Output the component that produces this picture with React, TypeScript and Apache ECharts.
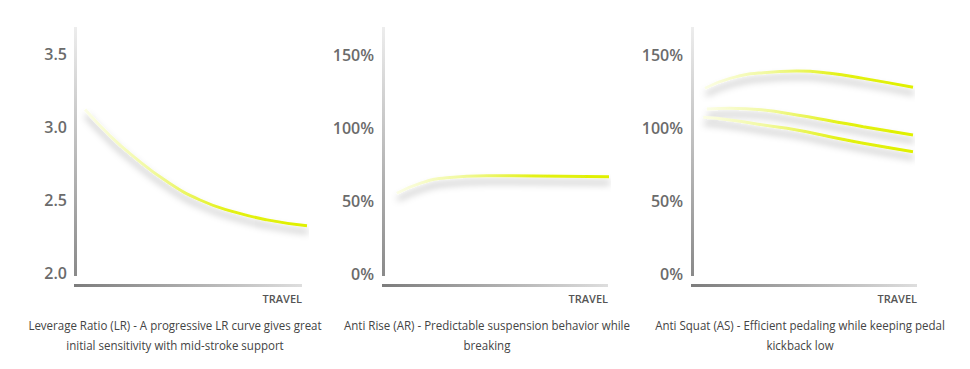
import React, { useEffect, useRef } from "react";
import * as echarts from "echarts";

// ---- data ----
const lrTicks = [2.0, 2.5, 3.0, 3.5];
const pctTicks = [0, 50, 100, 150];

const lrTravel = [3.9, 14.7, 24.7, 39.4, 53.7, 68.0, 82.7, 100];
const lrValues = [3.12, 2.94, 2.8, 2.626, 2.5, 2.42, 2.364, 2.323];

const arTravel = [6.1, 16.4, 28.2, 45.9, 68.0, 100];
const arValues = [55.3, 62.1, 66, 67.3, 67.1, 66.6];

const asTravelTop = [5.9, 17.2, 32.3, 47.4, 62.4, 77.5, 100];
const asTop = [127.2, 134, 137.9, 139, 137.5, 134, 127.9];
const asTravelMid = [6.7, 17.2, 32.3, 47.4, 62.4, 77.5, 100];
const asMid = [113, 113.5, 112.3, 108.9, 105, 100.9, 95.2];
const asTravelLow = [5.1, 17.2, 32.3, 47.4, 62.4, 77.5, 100];
const asLow = [107.3, 105.5, 102, 98.6, 94, 89.5, 83.8];

const axisName = "TRAVEL";
const captions = [
  ["Leverage Ratio (LR) - A progressive LR curve gives great", "initial sensitivity with mid-stroke support"],
  ["Anti Rise (AR) - Predictable suspension behavior while", "breaking"],
  ["Anti Squat (AS) - Efficient pedaling while keeping pedal", "kickback low"],
];

const zip = (xs: number[], ys: number[]) => xs.map((x, i) => [x, ys[i]]);

export default function App() {
  const ref = useRef<HTMLDivElement>(null);
  useEffect(() => {
    document.body.style.margin = "0";
    const chart = echarts.init(ref.current!, null, { renderer: "svg" });

    const lineGrad = () =>
      new echarts.graphic.LinearGradient(0, 0, 1, 0, [
        { offset: 0, color: "#fbfde6" },
        { offset: 0.3, color: "#f1f9a0" },
        { offset: 0.65, color: "#e3f114" },
        { offset: 1, color: "#dff000" },
      ]);
    const lineSeries = (idx: number, data: number[][]) => ({
      type: "line",
      xAxisIndex: idx,
      yAxisIndex: idx,
      data,
      smooth: 0.5,
      symbol: "none",
      clip: false,
      lineStyle: {
        width: 3,
        color: lineGrad(),
        shadowColor: "rgba(0,0,0,0.3)",
        shadowBlur: 7,
        shadowOffsetY: 6,
        shadowOffsetX: 1,
      },
    });

    const grids = [
      { left: 76, top: 54, width: 231, height: 219 },
      { left: 383, top: 55, width: 226, height: 219 },
      { left: 692, top: 55, width: 221, height: 219 },
    ];
    const axisX = [74, 382, 691];
    const barEnd = [302, 608, 917];
    const capX = [175, 487, 800];

    const labelStyle = {
      color: "#6b6b6b",
      fontFamily: "Open Sans",
      fontSize: 16,
      fontWeight: 600,
      margin: 9,
    };

    const yAxes = [
      {
        gridIndex: 0,
        type: "value",
        min: lrTicks[0],
        max: lrTicks[lrTicks.length - 1],
        interval: 0.5,
        axisLine: { show: false },
        axisTick: { show: false },
        splitLine: { show: false },
        axisLabel: { ...labelStyle, formatter: (v: number) => v.toFixed(1) },
      },
      ...[1, 2].map((g) => ({
        gridIndex: g,
        type: "value",
        min: pctTicks[0],
        max: pctTicks[pctTicks.length - 1],
        interval: 50,
        axisLine: { show: false },
        axisTick: { show: false },
        splitLine: { show: false },
        axisLabel: { ...labelStyle, formatter: (v: number) => v + "%" },
      })),
    ];
    const xAxes = [0, 1, 2].map((g) => ({
      gridIndex: g,
      type: "value",
      min: 0,
      max: 100,
      show: false,
    }));

    const graphics: any[] = [];
    for (let i = 0; i < 3; i++) {
      graphics.push({
        type: "rect",
        shape: { x: axisX[i], y: 27, width: 3, height: 249 },
        style: {
          fill: new echarts.graphic.LinearGradient(0, 0, 0, 1, [
            { offset: 0, color: "#ededed" },
            { offset: 1, color: "#8a8a8a" },
          ]),
        },
        silent: true,
      });
      graphics.push({
        type: "rect",
        shape: { x: axisX[i], y: 284, width: barEnd[i] - axisX[i], height: 3 },
        style: {
          fill: new echarts.graphic.LinearGradient(0, 0, 1, 0, [
            { offset: 0, color: "#7c7c7c" },
            { offset: 1, color: "#dedede" },
          ]),
        },
        silent: true,
      });
      graphics.push({
        type: "text",
        x: barEnd[i],
        y: 298,
        style: {
          text: axisName,
          fill: "#555555",
          font: "600 11px 'Open Sans'",
          textAlign: "right",
          textVerticalAlign: "middle",
        },
        silent: true,
      });
      captions[i].forEach((t, j) => {
        graphics.push({
          type: "text",
          x: capX[i],
          y: 325 + j * 20,
          scaleX: 0.96,
          style: {
            text: t,
            fill: "#444444",
            font: "12px 'Open Sans'",
            textAlign: "center",
            textVerticalAlign: "middle",
          },
          silent: true,
        });
      });
    }

    chart.setOption({
      animation: false,
      grid: grids,
      xAxis: xAxes,
      yAxis: yAxes,
      graphic: graphics,
      series: [
        lineSeries(0, zip(lrTravel, lrValues)),
        lineSeries(1, zip(arTravel, arValues)),
        lineSeries(2, zip(asTravelTop, asTop)),
        lineSeries(2, zip(asTravelMid, asMid)),
        lineSeries(2, zip(asTravelLow, asLow)),
      ],
    });
    return () => chart.dispose();
  }, []);
  return <div ref={ref} style={{ width: 970, height: 369 }} />;
}
